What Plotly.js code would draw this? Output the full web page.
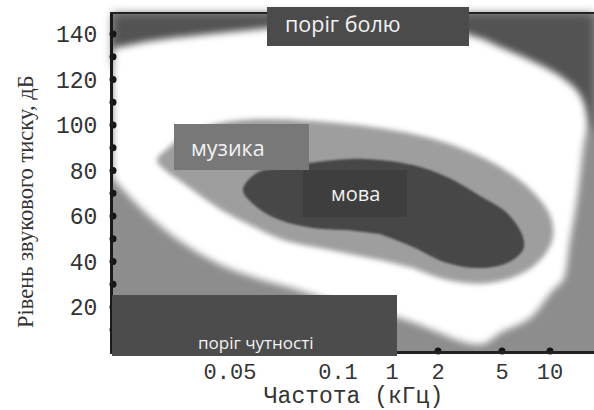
<!DOCTYPE html>
<html>
<head>
<meta charset="utf-8">
<script src="https://cdn.plot.ly/plotly-3.0.1.min.js"></script>
<style>html,body{margin:0;padding:0;background:#fff;}#chart{width:594px;height:410px;}</style>
</head>
<body>
<div id="chart"></div>
<script>
// Axis ticks (x axis is non-uniform: labels placed at positions along the axis)
const xTickPos = [117, 225, 279, 325, 389, 437];
const xTickText = ['0.05', '0.1', '1', '2', '5', '10'];
const xDotPos = [325, 389, 437];
const yTickVals = [20, 40, 60, 80, 100, 120, 140];
const yDotVals = [10, 20, 30, 40, 50, 60, 70, 80, 90, 100, 110, 120, 130, 140];

// Region above the pain threshold (dark)
const painX = [-10, 490, 490, 474, 460, 420, 380, 300, 200, 100, 0, -10];
const painY = [160, 160, 95, 100, 112, 122, 128, 133, 133, 130, 126, 126];

// Audible area (white band) between pain threshold and hearing threshold
const hearX = [-10, 0, 37, 87, 137, 187, 237, 287, 337, 367, 387, 417, 447, 467, 474, 470, 464, 457, 450, 440, 417, 387, 370, 347, 327, 287, 237, 187, 137, 104, 70, 37, 4, 0, -10];
const hearY = [134, 133.8, 136.9, 139.6, 141.8, 144, 144.8, 144.4, 141.8, 138.2, 134.3, 128.6, 121.5, 113.2, 102.2, 89, 67, 49.5, 31.9, 27.5, 15.2, 8.6, 3.7, 5.1, 8.6, 15.2, 20.4, 27.3, 33.6, 39.3, 48.1, 59.6, 74.5, 76.7, 80];

// Music area (light gray)
const musicX = [267, 217, 170, 137, 104, 70, 52, 44, 55, 72, 102, 147, 200, 267, 317, 350, 384, 417, 437, 440, 430, 410, 377, 334, 300];
const musicY = [40.7, 45.1, 49.5, 56.0, 63.9, 74.5, 80.2, 84.6, 89.9, 95.6, 100.4, 102.6, 101.8, 98.7, 94.3, 89.5, 82.4, 71.9, 60.4, 50.8, 42.0, 34.9, 30.5, 31.9, 37.1];

// Speech area (dark)
const speechX = [234, 200, 167, 144, 130, 144, 167, 197, 250, 300, 334, 367, 394, 410, 410, 394, 367, 334, 300, 267];
const speechY = [53.8, 54.7, 58.2, 63.9, 71.4, 79.0, 81.1, 83.3, 85.1, 82.4, 77.1, 68.8, 61.3, 50.8, 45.1, 39.3, 37.1, 39.3, 46.4, 52.1];

const area = (x, y, fill) => ({
  type: 'scatter', mode: 'lines', x: x, y: y, fill: 'toself', fillcolor: fill,
  line: {color: 'rgba(0,0,0,0)', width: 0, shape: 'spline', smoothing: 1},
  hoverinfo: 'skip', showlegend: false
});

const traces = [
  area(painX, painY, '#535353'),
  area(hearX, hearY, '#ffffff'),
  area(musicX, musicY, '#9e9e9e'),
  area(speechX, speechY, '#464646'),
  {type: 'scatter', mode: 'markers', x: yDotVals.map(() => 0), y: yDotVals,
   marker: {size: 7, color: '#151515'}, cliponaxis: false, hoverinfo: 'skip', showlegend: false},
  {type: 'scatter', mode: 'markers', x: xDotPos, y: xDotPos.map(() => 0.66),
   marker: {size: 7, color: '#151515'}, cliponaxis: false, hoverinfo: 'skip', showlegend: false}
];
const blurs = [5, 3.5, 2.8, 0.8];

const pw = 481, ph = 337, L = 113, T = 14;
const px = v => (v - L) / pw;
const py = v => (T + ph - v) / ph;
const box = (x0, x1, y0, y1, color) => ({
  type: 'rect', xref: 'paper', yref: 'paper', x0: px(x0), x1: px(x1), y0: py(y1), y1: py(y0),
  fillcolor: color, line: {width: 0}, layer: 'above'
});
const label = (text, cx, cy, size) => ({
  text: text, xref: 'paper', yref: 'paper', x: px(cx), y: py(cy), showarrow: false,
  xanchor: 'center', yanchor: 'middle',
  font: {family: 'Open Sans', size: size, color: '#f2f2f2'}
});

const layout = {
  width: 594, height: 410,
  margin: {l: L, r: 0, t: T, b: 410 - T - ph},
  paper_bgcolor: '#ffffff', plot_bgcolor: '#8d8d8d',
  xaxis: {
    range: [0, 481], tickmode: 'array', tickvals: xTickPos, ticktext: xTickText,
    ticks: '', showgrid: false, zeroline: false, showline: true, linewidth: 2.5,
    linecolor: '#222', mirror: true, ticklabelstandoff: -1,
    tickfont: {family: 'Liberation Mono', size: 22, color: '#333'},
    title: {text: 'Частота (кГц)', font: {family: 'Liberation Mono', size: 23, color: '#333'}, standoff: 15}
  },
  yaxis: {
    range: [0.66, 148.8], tickmode: 'array', tickvals: yTickVals,
    ticks: '', showgrid: false, zeroline: false, showline: true, linewidth: 3,
    linecolor: '#1a1a1a', ticklabelstandoff: 8,
    tickfont: {family: 'Liberation Mono', size: 23, color: '#333'}
  },
  shapes: [
    box(267, 469, 7, 46, '#4b4b4b'),
    box(174, 309, 124, 170, '#787878'),
    box(303, 407, 170, 217, '#3e3e3e'),
    box(112, 397, 295, 356, '#4c4c4c')
  ],
  annotations: [
    {text: 'Рівень звукового тиску, дБ', xref: 'paper', yref: 'paper', x: px(26), y: py(202),
     textangle: -90, showarrow: false, xanchor: 'center', yanchor: 'middle',
     font: {family: 'Liberation Serif', size: 22.5, color: '#333'}},
    label('поріг болю', 343, 23, 21.5),
    label('музика', 228, 147, 21.5),
    label('мова', 355, 193, 20),
    label('поріг чутності', 255, 342, 17)
  ]
};

Plotly.newPlot('chart', traces, layout, {staticPlot: true, displayModeBar: false}).then(gd => {
  const ns = 'http://www.w3.org/2000/svg';
  const svg = gd.querySelector('svg.main-svg');
  let defs = svg.querySelector('defs');
  if (!defs) { defs = document.createElementNS(ns, 'defs'); svg.insertBefore(defs, svg.firstChild); }
  const groups = gd.querySelectorAll('.scatterlayer .trace');
  blurs.forEach((sd, i) => {
    const f = document.createElementNS(ns, 'filter');
    f.setAttribute('id', 'soft' + i);
    f.setAttribute('x', '-20%'); f.setAttribute('y', '-20%');
    f.setAttribute('width', '140%'); f.setAttribute('height', '140%');
    const b = document.createElementNS(ns, 'feGaussianBlur');
    b.setAttribute('stdDeviation', sd);
    f.appendChild(b);
    defs.appendChild(f);
    if (groups[i]) groups[i].setAttribute('filter', 'url(#soft' + i + ')');
  });
});
</script>
</body>
</html>
